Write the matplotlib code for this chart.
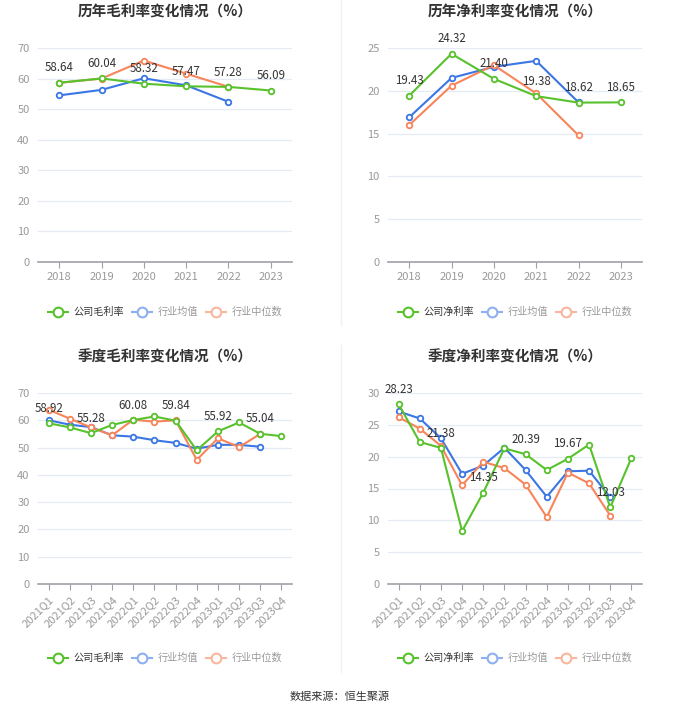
import numpy as np
import matplotlib
matplotlib.use('Agg')
import matplotlib.pyplot as plt
from matplotlib.lines import Line2D

plt.rcParams['font.family'] = ['Noto Sans CJK SC', 'DejaVu Sans']

years = ['2018', '2019', '2020', '2021', '2022', '2023']
quarters = ['2021Q1', '2021Q2', '2021Q3', '2021Q4', '2022Q1', '2022Q2',
            '2022Q3', '2022Q4', '2023Q1', '2023Q2', '2023Q3', '2023Q4']

# 历年毛利率
gross_co = [58.64, 60.04, 58.32, 57.47, 57.28, 56.09]
gross_mean = [54.5, 56.3, 60.1, 57.8, 52.4]
gross_med = [58.6, 60.0, 65.9, 61.6, 57.3]

# 历年净利率
net_co = [19.43, 24.32, 21.40, 19.38, 18.62, 18.65]
net_mean = [16.9, 21.5, 22.8, 23.5, 18.65]
net_med = [16.0, 20.6, 23.0, 19.7, 14.8]

# 季度毛利率
qgross_co = [58.92, 57.4, 55.28, 58.3, 60.08, 61.4, 59.84, 49.0, 55.92, 59.2, 55.04, 54.2]
qgross_mean = [60.0, 58.4, 57.5, 54.5, 54.0, 52.7, 51.7, 49.6, 51.0, 51.0, 50.3]
qgross_med = [63.9, 60.6, 57.4, 54.5, 60.2, 59.5, 60.0, 45.5, 53.4, 50.2, 55.0]

# 季度净利率
qnet_co = [28.23, 22.3, 21.38, 8.3, 14.35, 21.3, 20.39, 17.9, 19.67, 21.9, 12.03, 19.8]
qnet_mean = [27.1, 26.0, 22.9, 17.3, 18.6, 21.4, 17.9, 13.7, 17.7, 17.8, 13.6]
qnet_med = [26.2, 24.4, 21.7, 15.5, 19.2, 18.2, 15.6, 10.5, 17.5, 15.8, 10.75]

GREEN = '#58c22c'
BLUE = '#3a76e4'
ORANGE = '#f7845a'


def draw(ax, cats, co, mean, med, ymax, ystep, label_idx, rotate):
    x = np.arange(len(cats))
    ax.set_xlim(-0.5, len(cats) - 0.5)
    ax.set_ylim(0, ymax)
    ax.set_yticks(np.arange(0, ymax + 0.1, ystep))
    ax.yaxis.grid(True, color='#e6eaf4', lw=0.9)
    ax.set_axisbelow(True)
    for s in ['top', 'right', 'left']:
        ax.spines[s].set_visible(False)
    ax.spines['bottom'].set_color('#a0a0a8')
    ax.spines['bottom'].set_linewidth(1.2)
    ax.tick_params(axis='y', length=0, labelsize=8, labelcolor='#999999', pad=6)
    ax.tick_params(axis='x', length=4, color='#a0a0a8', labelsize=8, labelcolor='#999999')
    ax.set_xticks(x)
    if rotate:
        ax.set_xticklabels(cats, rotation=45, ha='right', rotation_mode='anchor')
    else:
        ax.set_xticklabels(cats)

    mk = dict(marker='o', ms=4, mfc='white', mew=1.3)
    ax.plot(x[:len(mean)], mean, color=BLUE, lw=1.5, mec=BLUE, **mk, zorder=3)
    ax.plot(x[:len(med)], med, color=ORANGE, lw=1.5, mec=ORANGE, **mk, zorder=3)
    ax.plot(x, co, color=GREEN, lw=1.5, mec=GREEN, **mk, zorder=4)
    for i in label_idx:
        ax.annotate(f'{co[i]:.2f}', (x[i], co[i]), xytext=(0, 6), textcoords='offset points',
                    ha='center', va='bottom', fontsize=8.3, color='#333333', zorder=5)

    handles = [
        Line2D([], [], color=GREEN, lw=1.5, marker='o', ms=7, mfc='white', mew=1.5),
        Line2D([], [], color='#8eb0f0', lw=1.5, marker='o', ms=7, mfc='white', mew=1.5),
        Line2D([], [], color='#fab69c', lw=1.5, marker='o', ms=7, mfc='white', mew=1.5),
    ]
    return handles


fig = plt.figure(figsize=(6.8, 7.12), dpi=100)
W, H = 680, 712


def axes_px(l, t, r, b):
    return fig.add_axes([l / W, 1 - b / H, (r - l) / W, (b - t) / H])


configs = [
    ((38, 48, 292, 262), years, gross_co, gross_mean, gross_med, 70, 10,
     '历年毛利率变化情况（%）', '公司毛利率', range(6), False, 12, 312),
    ((388, 48, 642, 262), years, net_co, net_mean, net_med, 25, 5,
     '历年净利率变化情况（%）', '公司净利率', range(6), False, 12, 312),
    ((38, 393, 292, 584), quarters, qgross_co, qgross_mean, qgross_med, 70, 10,
     '季度毛利率变化情况（%）', '公司毛利率', range(0, 12, 2), True, 357, 658),
    ((388, 393, 642, 584), quarters, qnet_co, qnet_mean, qnet_med, 30, 5,
     '季度净利率变化情况（%）', '公司净利率', range(0, 12, 2), True, 357, 658),
]

for box, cats, co, mean, med, ymax, ystep, title, co_name, lab, rot, ty, ly in configs:
    ax = axes_px(*box)
    handles = draw(ax, cats, co, mean, med, ymax, ystep, lab, rot)
    cx = (box[0] + box[2]) / 2
    fig.text(cx / W, 1 - ty / H, title, ha='center', va='center', fontsize=10.5,
             fontweight='bold', color='#333333')
    leg = fig.legend(handles, [co_name, '行业均值', '行业中位数'], loc='center',
                     bbox_to_anchor=(cx / W, 1 - ly / H), ncol=3, frameon=False,
                     fontsize=7.3, handlelength=2.0, handletextpad=0.5, columnspacing=0.8)
    texts = leg.get_texts()
    texts[0].set_color('#333333')
    texts[1].set_color('#999999')
    texts[2].set_color('#999999')

# 分隔线
fig.add_artist(Line2D([341 / W, 341 / W], [1 - 0 / H, 1 - 325 / H], color='#f0f0f0', lw=1))
fig.add_artist(Line2D([341 / W, 341 / W], [1 - 345 / H, 1 - 672 / H], color='#f0f0f0', lw=1))

fig.text(340 / W, 1 - 697 / H, '数据来源：恒生聚源', ha='center', va='center',
         fontsize=8, color='#333333')

fig.savefig('out.png', dpi=100)
